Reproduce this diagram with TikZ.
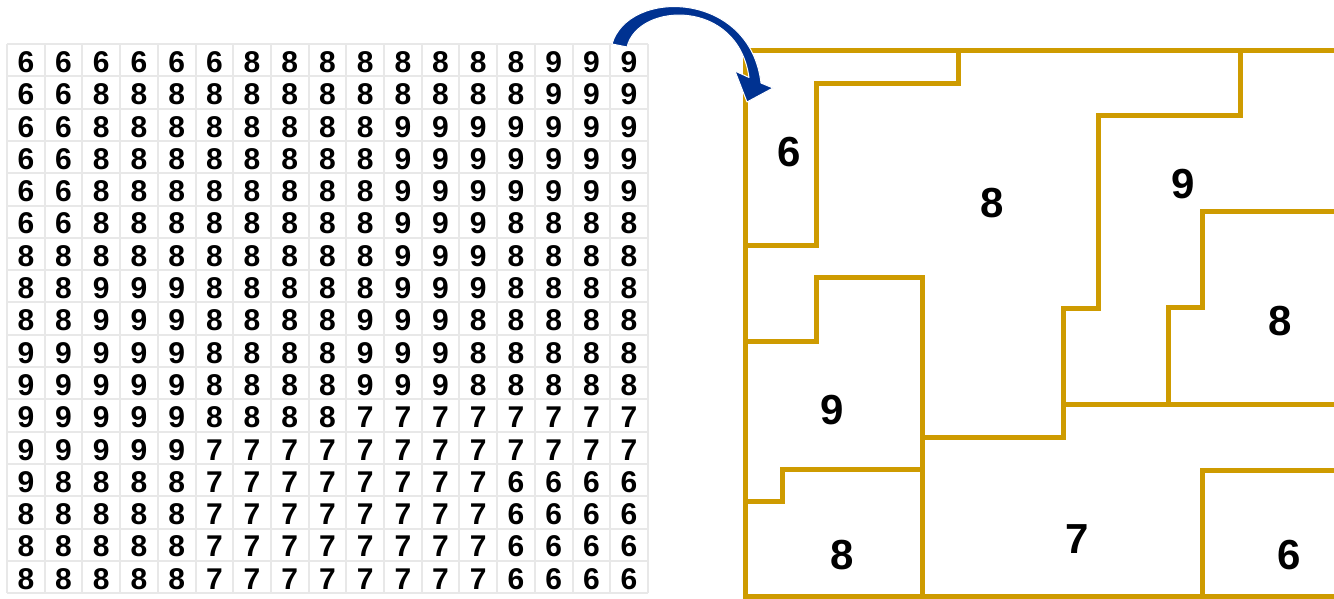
\documentclass[tikz,border=0pt]{standalone}
\usepackage{fontspec}
\setmainfont{Liberation Sans}
\definecolor{gridgray}{RGB}{232,232,232}
\definecolor{gold}{RGB}{206,155,0}
\definecolor{arrowblue}{RGB}{0,50,145}
\begin{document}
\begin{tikzpicture}[x=1pt,y=-1pt,
  gridline/.style={draw=gridgray, line width=2pt},
  digit/.style={font=\fontsize{30}{30}\selectfont\bfseries, inner sep=0pt},
  region/.style={draw=gold, line width=5pt, line join=miter, line cap=rect},
  reglabel/.style={font=\fontsize{42}{42}\selectfont\bfseries, inner sep=0pt},
  bigarrow/.style={fill=arrowblue, draw=white, line width=1pt, line join=round}]
\useasboundingbox[fill=white] (0,0) rectangle (1334,598);

% ---- grid of cells ----
\def\gx{7}\def\gy{44}\def\cw{37.7}\def\ch{32.3}
\foreach \i in {0,...,17}{
  \draw[gridline] ({\gx+\i*\cw},\gy) -- ({\gx+\i*\cw},{\gy+17*\ch});
  \draw[gridline] (\gx,{\gy+\i*\ch}) -- ({\gx+17*\cw},{\gy+\i*\ch});
}
\foreach \rowlist [count=\r] in {
  {6,6,6,6,6,6,8,8,8,8,8,8,8,8,9,9,9},
  {6,6,8,8,8,8,8,8,8,8,8,8,8,8,9,9,9},
  {6,6,8,8,8,8,8,8,8,8,9,9,9,9,9,9,9},
  {6,6,8,8,8,8,8,8,8,8,9,9,9,9,9,9,9},
  {6,6,8,8,8,8,8,8,8,8,9,9,9,9,9,9,9},
  {6,6,8,8,8,8,8,8,8,8,9,9,9,8,8,8,8},
  {8,8,8,8,8,8,8,8,8,8,9,9,9,8,8,8,8},
  {8,8,9,9,9,8,8,8,8,8,9,9,9,8,8,8,8},
  {8,8,9,9,9,8,8,8,8,9,9,9,8,8,8,8,8},
  {9,9,9,9,9,8,8,8,8,9,9,9,8,8,8,8,8},
  {9,9,9,9,9,8,8,8,8,9,9,9,8,8,8,8,8},
  {9,9,9,9,9,8,8,8,8,7,7,7,7,7,7,7,7},
  {9,9,9,9,9,7,7,7,7,7,7,7,7,7,7,7,7},
  {9,8,8,8,8,7,7,7,7,7,7,7,7,6,6,6,6},
  {8,8,8,8,8,7,7,7,7,7,7,7,7,6,6,6,6},
  {8,8,8,8,8,7,7,7,7,7,7,7,7,6,6,6,6},
  {8,8,8,8,8,7,7,7,7,7,7,7,7,6,6,6,6}}{
  \foreach \v [count=\c] in \rowlist{
    \node[digit] (cell-\r-\c) at ({\gx+(\c-0.5)*\cw},{\gy+(\r-0.5)*\ch+2}) {\v};
  }
}

% ---- region map ----
\draw[region] (745,50) -- (1334,50);
\draw[region] (745,50) -- (745,596) -- (1334,596);
\draw[region] (958,50) -- (958,83) -- (816,83) -- (816,245) -- (745,245);
\draw[region] (745,341) -- (816,341) -- (816,277) -- (922,277) -- (922,596);
\draw[region] (745,501) -- (782,501) -- (782,469) -- (922,469);
\draw[region] (922,437) -- (1063,437) -- (1063,308) -- (1098,308) -- (1098,115) -- (1240,115) -- (1240,50);
\draw[region] (1063,404) -- (1334,404);
\draw[region] (1334,211) -- (1202,211) -- (1202,307) -- (1168,307) -- (1168,404);
\draw[region] (1202,596) -- (1202,470) -- (1334,470);

\node[reglabel] (r6a) at (789,152) {6};
\node[reglabel] (r8a) at (992,203) {8};
\node[reglabel] (r9a) at (1183,184) {9};
\node[reglabel] (r8b) at (1280,321) {8};
\node[reglabel] (r9b) at (832,410) {9};
\node[reglabel] (r8c) at (842,555) {8};
\node[reglabel] (r7a) at (1077,539) {7};
\node[reglabel] (r6b) at (1289,555) {6};

% ---- curved arrow ----
\coordinate (arrtail) at (612,44);
\coordinate (arrtip) at (747,102);
\path[bigarrow] (arrtail) .. controls (628,-12) and (750,-10) .. (761,83)
  -- (773,88) -- (arrtip) -- (735,71) -- (749,77.5)
  .. controls (738,-2) and (638,2) .. (627,47) -- cycle;
\end{tikzpicture}
\end{document}
